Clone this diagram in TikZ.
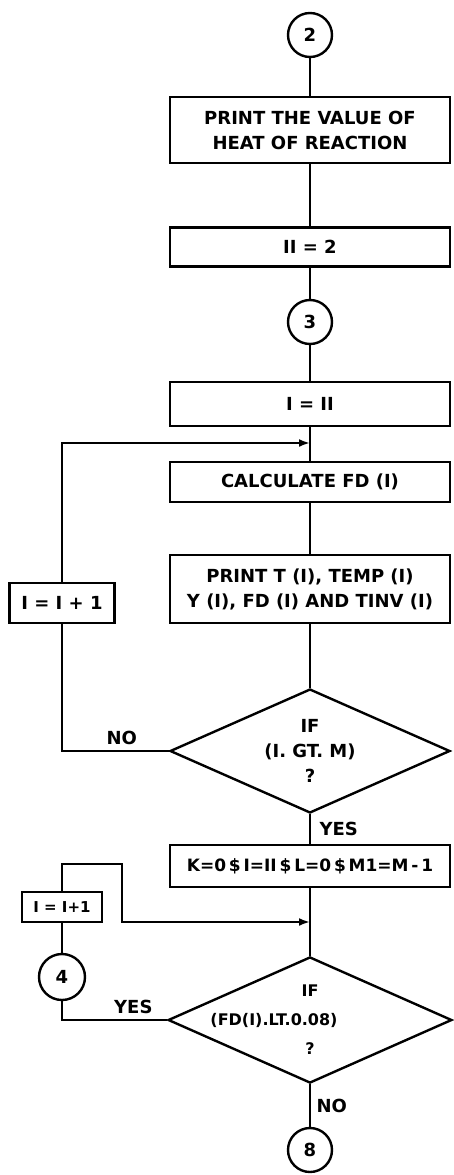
\documentclass[tikz,border=0pt]{standalone}
\usepackage{fontspec}
\setsansfont{DejaVu Sans}
\usetikzlibrary{shapes.geometric,arrows.meta}

\begin{document}
\begin{tikzpicture}[x=1pt, y=-1pt, line width=2.4pt,
    font=\sffamily\bfseries\fontsize{18}{25}\selectfont, >={Latex[length=11pt,width=8pt]},
    box/.style={draw, minimum width=280pt, align=center, inner sep=0pt},
    conn/.style={draw, circle, minimum size=44pt, inner sep=0pt},
    test/.style={draw, diamond, aspect=2.25, minimum width=280pt, minimum height=124pt,
                 inner sep=0pt, align=center},
    small/.style={font=\sffamily\bfseries\fontsize{15}{20}\selectfont}]
  \useasboundingbox (0,0) rectangle (453,1175);
  \node[conn] (c2) at (310,35) {2};
  \node[box, minimum height=66pt] (heat) at (310,130) {PRINT THE VALUE OF\\HEAT OF REACTION};
  \node[box, minimum height=39pt] (ii) at (310,247) {II = 2};
  \node[conn] (c3) at (310,322) {3};
  \node[box, minimum height=44pt] (iset) at (310,404) {I = II};
  \coordinate (j1) at (310,443);
  \node[box, minimum height=40pt] (calc) at (310,482) {CALCULATE FD (I)};
  \node[box, minimum height=68pt] (prt) at (310,589) {PRINT T (I), TEMP (I)\\Y (I), FD (I) AND TINV (I)};
  \node[test] (gtm) at (310,751) {IF\\(I. GT. M)\\?};
  \node[box, minimum height=42pt, font=\sffamily\bfseries\fontsize{17}{20}\selectfont] (init) at (310,866)
    {K=0\,\$\,I=II\,\$\,L=0\,\$\,M1=M\,-\,1};
  \coordinate (j2) at (310,922);
  \node[test, font=\sffamily\bfseries\fontsize{16}{29}\selectfont] (lt) at (310,1020)
    {IF\\\hspace*{-36pt}(FD(I).LT.0.08)\hspace*{36pt}\null\\?};
  \node[conn] (c8) at (310,1150) {8};

  \node[draw, minimum width=105pt, minimum height=40pt, inner sep=0pt] (inc1) at (62,603) {I = I + 1};
  \node[draw, small, minimum width=80pt, minimum height=30pt, inner sep=0pt] (inc2) at (62,907) {I = I+1};
  \node[conn, minimum size=46pt] (c4) at (62,977) {4};
  \coordinate (bend) at (122,864);

  \draw (c2) -- (heat);
  \draw (heat) -- (ii);
  \draw (ii) -- (c3);
  \draw (c3) -- (iset);
  \draw (iset) -- (calc);
  \draw (calc) -- (prt);
  \draw (prt) -- (gtm);
  \draw (gtm) -- node[right=5pt]{YES} (init);
  \draw (init) -- (lt);
  \draw (lt) -- node[right=2pt]{NO} (c8);
  \draw (gtm.west) -| node[pos=0.22, above=2pt]{NO} (inc1.south);
  \draw[->] (inc1.north) |- (j1);
  \draw (lt.west) -| node[pos=0.16, above=2pt]{YES} (c4.south);
  \draw (c4) -- (inc2);
  \draw[->] (inc2.north) |- (bend) |- (j2);
\end{tikzpicture}
\end{document}
